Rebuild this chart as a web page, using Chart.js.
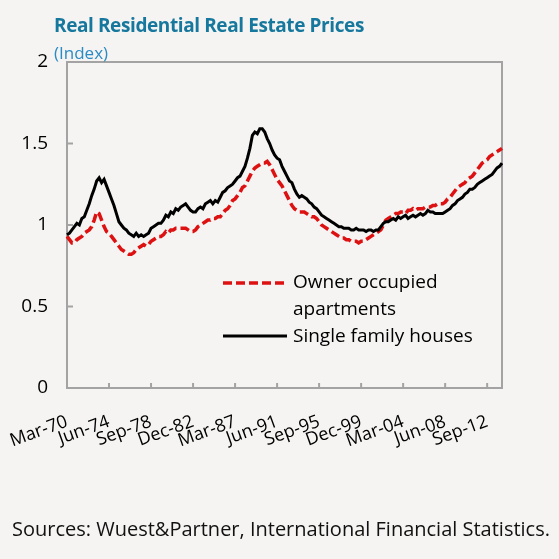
<!DOCTYPE html>
<html>
<head>
<meta charset="utf-8">
<script src="https://cdn.jsdelivr.net/npm/chart.js@4.4.1/dist/chart.umd.min.js"></script>
<style>
  html, body { margin: 0; padding: 0; background: #f5f4f2; }
  #wrap { position: relative; width: 559px; height: 559px; font-family: "Open Sans", sans-serif; }
  #chart { position: absolute; left: 0; top: 0; }
  .title { position: absolute; left: 54px; top: 12px; font-weight: bold; font-size: 19px; color: #17789e; letter-spacing: -0.4px; white-space: nowrap; }
  .sub { position: absolute; left: 54px; top: 41px; font-size: 17px; color: #2a8cc4; }
  .legend { position: absolute; left: 222px; top: 271px; font-size: 19px; color: #000; line-height: 27px; }
  .legend svg { position: absolute; left: 0; }
  .legend .txt { position: absolute; left: 71px; white-space: nowrap; }
  .source { position: absolute; left: 12px; top: 515px; font-size: 20px; color: #111; white-space: nowrap; }
</style>
</head>
<body>
<div id="wrap">
  <canvas id="chart" width="559" height="559"></canvas>
  <div class="title">Real Residential Real Estate Prices</div>
  <div class="sub">(Index)</div>
  <div class="legend">
    <svg width="66" height="80" style="top:0">
      <line x1="1" y1="12" x2="65" y2="12" stroke="#dd1111" stroke-width="3.5" stroke-dasharray="9,4"/>
      <line x1="1" y1="65" x2="65" y2="65" stroke="#000" stroke-width="3"/>
    </svg>
    <div class="txt" style="top:-3px">Owner occupied<br>apartments</div>
    <div class="txt" style="top:51px">Single family houses</div>
  </div>
  <div class="source">Sources: Wuest&amp;Partner, International Financial Statistics.</div>
</div>
<script>
// 🔹 DATA (quarterly, Mar-70 .. Mar-14)
const quarterMonths = ["Mar", "Jun", "Sep", "Dec"];
const firstYear = 1970;
const pointCount = 177;

const tickLabels = ["Mar-70", "Jun-74", "Sep-78", "Dec-82", "Mar-87", "Jun-91",
                    "Sep-95", "Dec-99", "Mar-04", "Jun-08", "Sep-12"];

const yTicks = [0, 0.5, 1, 1.5, 2];

// Owner occupied apartments (red dashed)
const apartments = [
    0.93, 0.91, 0.89, 0.89,   0.91, 0.92, 0.93, 0.95,   0.96, 0.97, 0.99, 1.03,   1.08, 1.07, 1.03, 0.99,
    0.96, 0.95, 0.93, 0.91,   0.89, 0.87, 0.85, 0.84,   0.83, 0.82, 0.82, 0.83,   0.85, 0.86, 0.87, 0.88,
    0.87, 0.88, 0.90, 0.91,   0.92, 0.93, 0.93, 0.94,   0.96, 0.95, 0.97, 0.97,   0.98, 0.98, 0.98, 0.98,
    0.98, 0.97, 0.96, 0.96,   0.97, 0.99, 1.00, 1.01,   1.02, 1.03, 1.03, 1.04,   1.04, 1.05, 1.05, 1.07,
    1.09, 1.10, 1.12, 1.15,   1.16, 1.18, 1.20, 1.23,   1.24, 1.27, 1.30, 1.33,   1.35, 1.36, 1.37, 1.38,
    1.38, 1.39, 1.37, 1.34,   1.31, 1.28, 1.26, 1.24,   1.21, 1.18, 1.15, 1.12,   1.10, 1.09, 1.08, 1.08,
    1.08, 1.07, 1.06, 1.05,   1.05, 1.04, 1.02, 1.00,   0.99, 0.98, 0.97, 0.96,   0.95, 0.94, 0.93, 0.92,
    0.92, 0.91, 0.91, 0.90,   0.90, 0.90, 0.89, 0.90,   0.90, 0.91, 0.92, 0.93,   0.94, 0.95, 0.96, 0.97,
    1.00, 1.03, 1.04, 1.05,   1.06, 1.07, 1.07, 1.08,   1.08, 1.07, 1.09, 1.09,   1.10, 1.09, 1.10, 1.10,
    1.10, 1.11, 1.11, 1.11,   1.12, 1.12, 1.13, 1.13,   1.13, 1.14, 1.16, 1.17,   1.19, 1.21, 1.23, 1.24,
    1.25, 1.26, 1.28, 1.29,   1.30, 1.32, 1.34, 1.36,   1.38, 1.39, 1.40, 1.42,   1.43, 1.44, 1.45, 1.46,
    1.47
];

// Single family houses (black)
const houses = [
    0.94, 0.95, 0.97, 0.99,   1.01, 1.00, 1.04, 1.05,   1.09, 1.13, 1.18, 1.22,   1.27, 1.29, 1.26, 1.28,
    1.24, 1.20, 1.16, 1.12,   1.07, 1.02, 1.00, 0.98,   0.97, 0.95, 0.94, 0.93,   0.95, 0.93, 0.94, 0.93,
    0.94, 0.95, 0.98, 0.99,   1.00, 1.01, 1.01, 1.03,   1.06, 1.05, 1.08, 1.07,   1.10, 1.09, 1.11, 1.12,
    1.13, 1.11, 1.09, 1.08,   1.08, 1.10, 1.11, 1.10,   1.13, 1.14, 1.15, 1.13,   1.15, 1.14, 1.17, 1.20,
    1.21, 1.23, 1.24, 1.25,   1.27, 1.29, 1.30, 1.33,   1.36, 1.41, 1.47, 1.55,   1.57, 1.56, 1.59, 1.59,
    1.57, 1.53, 1.50, 1.46,   1.43, 1.41, 1.40, 1.36,   1.33, 1.30, 1.27, 1.26,   1.22, 1.19, 1.17, 1.18,
    1.17, 1.16, 1.14, 1.13,   1.11, 1.10, 1.08, 1.06,   1.05, 1.04, 1.03, 1.02,   1.01, 1.00, 0.99, 0.99,
    0.98, 0.98, 0.98, 0.97,   0.97, 0.98, 0.97, 0.97,   0.97, 0.96, 0.97, 0.97,   0.96, 0.97, 0.97, 0.99,
    1.01, 1.02, 1.02, 1.03,   1.04, 1.03, 1.05, 1.04,   1.05, 1.06, 1.04, 1.05,   1.06, 1.05, 1.06, 1.07,
    1.06, 1.07, 1.09, 1.08,   1.08, 1.07, 1.07, 1.07,   1.07, 1.08, 1.09, 1.10,   1.12, 1.13, 1.15, 1.16,
    1.17, 1.19, 1.20, 1.22,   1.22, 1.23, 1.25, 1.26,   1.27, 1.28, 1.29, 1.30,   1.31, 1.33, 1.35, 1.36,
    1.38
];

// 🔹 quarter labels
const categories = [];
for (let i = 0; i < pointCount; i++) {
    const yr = firstYear + Math.floor(i / 4);
    categories.push(quarterMonths[i % 4] + "-" + String(yr).slice(2));
}

// 🔹 frame + inward tick marks
const framePlugin = {
    id: "frame",
    beforeDatasetsDraw(chart) {
        const { ctx, chartArea: a, scales } = chart;
        ctx.save();
        ctx.strokeStyle = "#a3a3a3";
        ctx.lineWidth = 2;
        ctx.strokeRect(a.left, a.top, a.right - a.left, a.bottom - a.top);
        ctx.beginPath();
        categories.forEach((c, i) => {
            if (i > 0 && tickLabels.includes(c)) {
                const px = scales.x.getPixelForValue(i);
                ctx.moveTo(px, a.bottom);
                ctx.lineTo(px, a.bottom - 5);
            }
        });
        yTicks.slice(1, -1).forEach(v => {
            const py = scales.y.getPixelForValue(v);
            ctx.moveTo(a.left, py);
            ctx.lineTo(a.left + 6, py);
        });
        ctx.stroke();
        ctx.restore();
    }
};

const ctx = document.getElementById("chart").getContext("2d");

new Chart(ctx, {
    type: "line",
    data: {
        labels: categories,
        datasets: [
            {
                label: "Single family houses",
                data: houses,
                borderColor: "#000",
                borderWidth: 3,
                pointRadius: 0,
                tension: 0,
                order: 0
            },
            {
                label: "Owner occupied apartments",
                data: apartments,
                borderColor: "#dd1111",
                borderWidth: 3.5,
                borderDash: [9, 4],
                pointRadius: 0,
                tension: 0,
                order: 1
            }
        ]
    },
    options: {
        responsive: false,
        animation: false,
        layout: { padding: { left: 0, right: 57, top: 62, bottom: 0 } },
        plugins: { legend: { display: false }, tooltip: { enabled: false } },
        scales: {
            x: {
                type: "category",
                offset: false,
                grid: { display: false, drawTicks: false },
                border: { display: false },
                ticks: {
                    autoSkip: false,
                    minRotation: 20,
                    maxRotation: 20,
                    padding: 23,
                    color: "#000",
                    font: { family: "Open Sans", size: 18 },
                    callback: function (v) {
                        const l = this.getLabelForValue(v);
                        return tickLabels.includes(l) ? l : "";
                    }
                },
                afterFit: s => {
                    s.height = 171;
                    s.paddingLeft = 0;
                    s.paddingRight = 0;
                }
            },
            y: {
                min: 0,
                max: 2,
                grid: { display: false, drawTicks: false },
                border: { display: false },
                ticks: {
                    stepSize: 0.5,
                    padding: 19,
                    color: "#000",
                    font: { family: "Open Sans", size: 19 },
                    callback: v => String(v)
                },
                afterFit: s => {
                    s.width = 67;
                    s.paddingTop = 0;
                    s.paddingBottom = 0;
                }
            }
        }
    },
    plugins: [framePlugin]
});
</script>
</body>
</html>
